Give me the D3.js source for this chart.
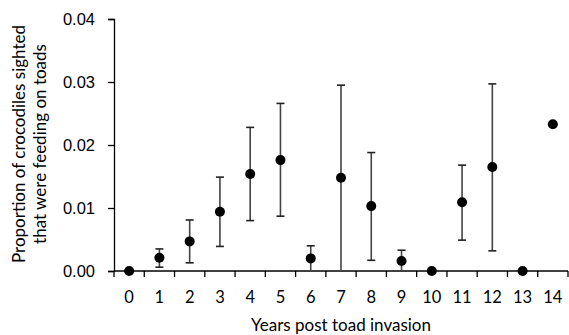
<!DOCTYPE html>
<html>
<head>
<meta charset="utf-8">
<script src="https://cdn.jsdelivr.net/npm/d3@7"></script>
<style>
  body { margin: 0; background: #fff; }
  svg { font-family: Lato, "Open Sans", sans-serif; }
</style>
</head>
<body>
<div id="chart"></div>
<script>
const years = ["0","1","2","3","4","5","6","7","8","9","10","11","12","13","14"];
const proportion = [0, 0.0021, 0.0047, 0.0094, 0.0154, 0.0176, 0.0020, 0.0148, 0.0103, 0.0016, 0, 0.0109, 0.0165, 0, 0.0233];
const upper = [null, 0.0035, 0.0081, 0.0149, 0.0228, 0.0266, 0.0040, 0.0295, 0.0188, 0.0033, null, 0.0168, 0.0297, null, null];
const lower = [null, 0.0006, 0.0013, 0.0039, 0.0080, 0.0087, 0, 0, 0.0017, 0, null, 0.0049, 0.0032, null, null];
const yTicks = [0, 0.01, 0.02, 0.03, 0.04];

const width = 569, height = 335;
const margin = { top: 19, right: 1, bottom: 64, left: 114 };

const svg = d3.select("#chart")
    .append("svg")
    .attr("width", width)
    .attr("height", height);

const x = d3.scaleBand()
    .domain(years)
    .range([margin.left, width - margin.right])
    .padding(0);

const y = d3.scaleLinear()
    .domain([0, 0.04])
    .range([height - margin.bottom, margin.top]);

const data = years.map((yr, i) => ({ year: yr, value: proportion[i], hi: upper[i], lo: lower[i] }));

// y axis
const yAxis = svg.append("g")
    .attr("transform", `translate(${margin.left},0)`)
    .call(d3.axisLeft(y).tickValues(yTicks).tickFormat(d3.format(".2f")).tickSize(6).tickPadding(13));
yAxis.selectAll("text").style("font-size", "16.5px").attr("fill", "#000");
yAxis.selectAll("line, path").attr("stroke", "#000").attr("stroke-width", 1.3);

// x axis: ticks between categories
const xAxis = svg.append("g")
    .attr("transform", `translate(0,${y(0)})`);
xAxis.append("line")
    .attr("x1", x.range()[0]).attr("x2", x.range()[1])
    .attr("stroke", "#000").attr("stroke-width", 1.3);
const boundaries = years.map(d => x(d)).concat([x(years[years.length - 1]) + x.bandwidth()]);
xAxis.selectAll(".tk")
    .data(boundaries)
    .join("line")
    .attr("x1", d => d).attr("x2", d => d)
    .attr("y1", 0).attr("y2", 6)
    .attr("stroke", "#000").attr("stroke-width", 1.3);
xAxis.selectAll(".lbl")
    .data(years)
    .join("text")
    .attr("x", d => x(d) + x.bandwidth() / 2)
    .attr("y", 32)
    .attr("text-anchor", "middle")
    .style("font-size", "16.5px")
    .text(d => d);

// error bars
const bars = data.filter(d => d.hi !== null);
const cap = 4;
svg.selectAll(".err")
    .data(bars)
    .join("line")
    .attr("x1", d => x(d.year) + x.bandwidth() / 2)
    .attr("x2", d => x(d.year) + x.bandwidth() / 2)
    .attr("y1", d => y(d.lo))
    .attr("y2", d => y(d.hi))
    .attr("stroke", "#444").attr("stroke-width", 1.6);
svg.selectAll(".capHi")
    .data(bars)
    .join("line")
    .attr("x1", d => x(d.year) + x.bandwidth() / 2 - cap)
    .attr("x2", d => x(d.year) + x.bandwidth() / 2 + cap)
    .attr("y1", d => y(d.hi)).attr("y2", d => y(d.hi))
    .attr("stroke", "#222").attr("stroke-width", 1.6);
svg.selectAll(".capLo")
    .data(bars.filter(d => d.lo > 0))
    .join("line")
    .attr("x1", d => x(d.year) + x.bandwidth() / 2 - cap)
    .attr("x2", d => x(d.year) + x.bandwidth() / 2 + cap)
    .attr("y1", d => y(d.lo)).attr("y2", d => y(d.lo))
    .attr("stroke", "#222").attr("stroke-width", 1.6);

// points
svg.selectAll(".pt")
    .data(data)
    .join("circle")
    .attr("cx", d => x(d.year) + x.bandwidth() / 2)
    .attr("cy", d => y(d.value))
    .attr("r", 5)
    .attr("fill", "#000");

// axis titles
svg.append("text")
    .attr("transform", `translate(25,144) rotate(-90)`)
    .attr("text-anchor", "middle")
    .style("font-size", "17px")
    .text("Proportion of crocodiles sighted");
svg.append("text")
    .attr("transform", `translate(46,144) rotate(-90)`)
    .attr("text-anchor", "middle")
    .style("font-size", "17px")
    .text("that were feeding on toads");
svg.append("text")
    .attr("x", (x.range()[0] + x.range()[1]) / 2)
    .attr("y", 331)
    .attr("text-anchor", "middle")
    .style("font-size", "17px")
    .text("Years post toad invasion");
</script>
</body>
</html>
